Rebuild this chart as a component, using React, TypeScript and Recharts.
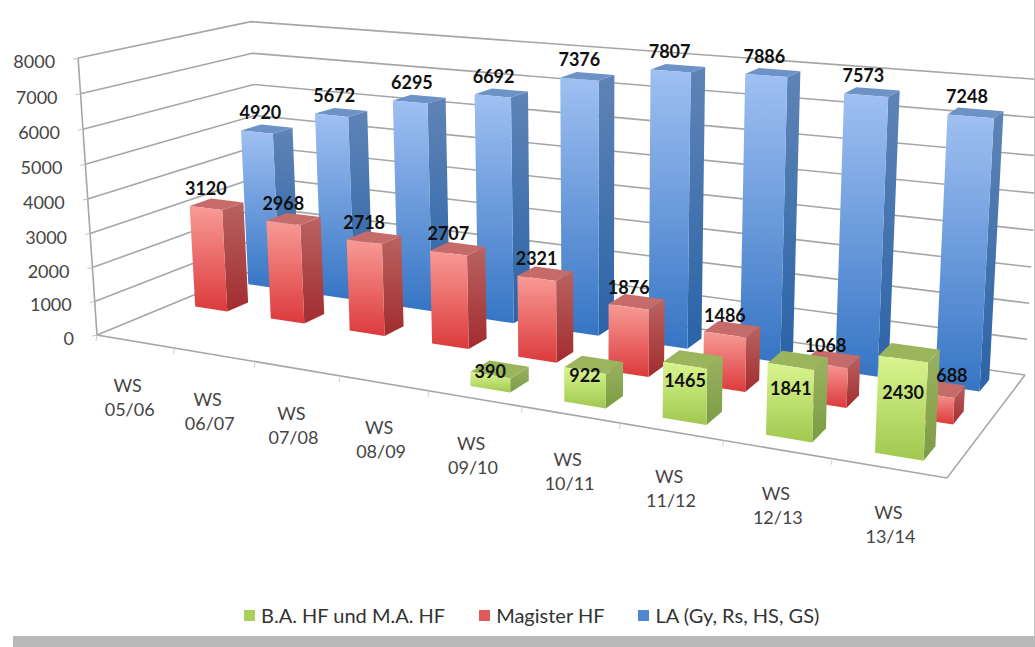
import { BarChart, Bar, XAxis, YAxis, CartesianGrid, LabelList, Legend } from 'recharts'

const categories = ['WS 05/06', 'WS 06/07', 'WS 07/08', 'WS 08/09', 'WS 09/10', 'WS 10/11', 'WS 11/12', 'WS 12/13', 'WS 13/14']
const baHf = [null, null, null, null, 390, 922, 1465, 1841, 2430]
const magisterHf = [3120, 2968, 2718, 2707, 2321, 1876, 1486, 1068, 688]
const la = [4920, 5672, 6295, 6692, 7376, 7807, 7886, 7573, 7248]
const valueTicks = [0, 1000, 2000, 3000, 4000, 5000, 6000, 7000, 8000]
const legendOrder = ['B.A. HF und M.A. HF', 'Magister HF', 'LA (Gy, Rs, HS, GS)']

const data = categories.map((name, i) => ({ name, ba: baHf[i], mag: magisterHf[i], la: la[i] }))

const W = 1035
const H = 647
// plot rectangle the axes scale into, before the box projection
const PLOT_L = 40
const PLOT_W = W - PLOT_L
const PLOT_B = H - 30
const BAR_SIZE = (PLOT_W / categories.length) * 0.43
const FONT = 'Lato, "Open Sans", sans-serif'

type Pt = [number, number]

// floor corners: front-left, front-right, back-right, back-left
const [p0, p1, p2, p3]: Pt[] = [[97, 335], [947, 478], [1025, 375], [262, 267]]
// where the verticals of the box meet, below the page
const VANISH: Pt = [600, 7700]
const TOP_Y_FRONT_LEFT = 58

const dx1 = p1[0] - p2[0]
const dx2 = p3[0] - p2[0]
const sx = p0[0] - p1[0] + p2[0] - p3[0]
const dy1 = p1[1] - p2[1]
const dy2 = p3[1] - p2[1]
const sy = p0[1] - p1[1] + p2[1] - p3[1]
const den = dx1 * dy2 - dx2 * dy1
const g = (sx * dy2 - dx2 * sy) / den
const h = (dx1 * sy - sx * dy1) / den
const a = p1[0] - p0[0] + g * p1[0]
const b = p3[0] - p0[0] + h * p3[0]
const d = p1[1] - p0[1] + g * p1[1]
const e = p3[1] - p0[1] + h * p3[1]
const t = (TOP_Y_FRONT_LEFT - p0[1]) / (VANISH[1] - TOP_Y_FRONT_LEFT)

// u along the categories, v into the depth, w up the value axis (all 0..1)
function project(u: number, v: number, w: number): Pt {
  const q = g * u + h * v + 1 + t * w
  return [(a * u + b * v + p0[0] + VANISH[0] * t * w) / q, (d * u + e * v + p0[1] + VANISH[1] * t * w) / q]
}

const pts = (list: Pt[]) => list.map((p) => `${p[0].toFixed(1)},${p[1].toFixed(1)}`).join(' ')
const toU = (x: number) => (x - PLOT_L) / PLOT_W
const toW = (y: number) => (PLOT_B - y) / PLOT_B

const styles = {
  la: { v0: 0.77, v1: 0.9, front: ['#9fc0f2', '#3675c4'], side: ['#5f84b6', '#2a63a7'], top: '#6c92c6', lift: 20, k: 0, skew: 8 },
  mag: { v0: 0.435, v1: 0.565, front: ['#f89b95', '#dc3a3c'], side: ['#b96361', '#a22c2e'], top: '#c56b69', lift: 20, k: 0, skew: 0 },
  ba: { v0: 0.1, v1: 0.23, front: ['#d9f58e', '#a0c850'], side: ['#9ab262', '#7c9c44'], top: '#9bb55d', lift: 11, k: 0.45, skew: 0 },
}
type SeriesKey = keyof typeof styles

// the 688 label sits clear of the green bar in front of it
const labelShift: Record<number, number> = { 688: 21 }

const makeBar = (key: SeriesKey) => (props: any) => {
  const { x, y, width, height } = props
  if (!height || height <= 0) return <g />
  const s = styles[key]
  const u0 = toU(x)
  const u1 = toU(x + width)
  const w1 = toW(y)
  const fbl = project(u0, s.v0, 0)
  const fbr = project(u1, s.v0, 0)
  const ftl = project(u0, s.v0, w1)
  const ftr = project(u1, s.v0, w1)
  const bbr = project(u1, s.v1, 0)
  const btr = project(u1, s.v1, w1)
  const btl = project(u0, s.v1, w1)
  return (
    <g>
      <polygon points={pts([ftr, btr, bbr, fbr])} fill={`url(#${key}-side)`} />
      <polygon points={pts([ftl, btl, btr, ftr])} fill={s.top} />
      <polygon points={pts([ftl, ftr, fbr, fbl])} fill={`url(#${key}-front)`} />
    </g>
  )
}

const makeLabel = (key: SeriesKey) => (props: any) => {
  const { x, y, width, value } = props
  if (value == null) return <g />
  const s = styles[key]
  const u = toU(x + width / 2)
  const w1 = toW(y)
  const top = project(u, s.v0, w1)
  const base = project(u, s.v0, 0)
  const dy = (base[1] - top[1]) * s.k - s.lift
  const dx = s.skew * (0.5 - u) + (labelShift[value] ?? 0)
  return (
    <text x={top[0] + dx} y={top[1] + dy} textAnchor="middle" dominantBaseline="central" fontFamily={FONT} fontWeight={700} fontSize={18} fill="#111">
      {value}
    </text>
  )
}

// wall gridlines, and on the zero line the floor outline and the value axis
function wallLine(props: any) {
  const w = toW(props.y1)
  const isFloor = w < 0.001
  return (
    <g key={props.y1} fill="none" stroke="#a6a6a6" strokeWidth={1.6}>
      <polyline points={pts([project(0, 0, w), project(0, 1, w), project(1, 1, w)])} />
      {isFloor && <polyline points={pts([project(0, 0, 1), project(0, 0, 0), project(1, 0, 0), project(1, 1, 0)])} />}
    </g>
  )
}

function ValueTick(props: any) {
  const { y, payload } = props
  const p = project(0, 0, toW(y))
  return (
    <g>
      <line x1={p[0] - 5} y1={p[1] + 1} x2={p[0]} y2={p[1]} stroke="#c4c4c4" strokeWidth={1} />
      <text x={p[0] - 23} y={p[1] + 3} textAnchor="end" dominantBaseline="central" fontFamily={FONT} fontSize={18} fill="#444">
        {payload.value}
      </text>
    </g>
  )
}

function CategoryTick(props: any) {
  const { x, payload } = props
  const u = toU(x)
  const p = project(u, 0, 0)
  const edge = project(u - 0.5 / categories.length, 0, 0)
  const shift = -8 * (1 - u)
  const [first, second] = String(payload.value).split(' ')
  return (
    <g>
      <line x1={edge[0]} y1={edge[1]} x2={edge[0] - 1} y2={edge[1] + 6} stroke="#cfcfcf" strokeWidth={1} />
      <text x={p[0] + shift} y={p[1] + 44} textAnchor="middle" dominantBaseline="central" fontFamily={FONT} fontSize={18} fill="#444">{first}</text>
      <text x={p[0] + shift + 2} y={p[1] + 68} textAnchor="middle" dominantBaseline="central" fontFamily={FONT} fontSize={18} fill="#444">{second}</text>
    </g>
  )
}

const legendSwatch = ['#a8cf5c', '#e2595b', '#4f88d2']

function LegendRow() {
  return (
    <div style={{ display: 'flex', gap: 34, alignItems: 'center', fontFamily: FONT, fontSize: 20, color: '#333', whiteSpace: 'nowrap' }}>
      {legendOrder.map((label, i) => (
        <span key={label} style={{ display: 'flex', alignItems: 'center', gap: 6 }}>
          <span style={{ width: 11, height: 11, background: legendSwatch[i] }} />
          {label}
        </span>
      ))}
    </div>
  )
}

function gradient(id: string, stops: string[]) {
  return (
    <linearGradient id={id} key={id} x1="0" y1="0" x2="0" y2="1">
      <stop offset="0" stopColor={stops[0]} />
      <stop offset="1" stopColor={stops[1]} />
    </linearGradient>
  )
}

export default function App() {
  return (
    <div style={{ position: 'absolute', left: 0, top: 0, width: W, height: H, overflow: 'hidden', background: '#fff' }}>
      <BarChart width={W} height={H} data={data} margin={{ top: 0, right: 0, bottom: 0, left: 0 }}>
        <defs>
          {(Object.keys(styles) as SeriesKey[]).flatMap((k) => [gradient(`${k}-front`, styles[k].front), gradient(`${k}-side`, styles[k].side)])}
        </defs>
        <CartesianGrid xAxisId="ba" vertical={false} horizontal={wallLine} />
        <XAxis xAxisId="ba" dataKey="name" height={H - PLOT_B} interval={0} axisLine={false} tickLine={false} tick={CategoryTick} />
        <XAxis xAxisId="mag" dataKey="name" hide />
        <XAxis xAxisId="la" dataKey="name" hide />
        <YAxis width={PLOT_L} domain={[0, 8000]} ticks={valueTicks} interval={0} axisLine={false} tickLine={false} tick={ValueTick} />
        <Bar xAxisId="la" dataKey="la" barSize={BAR_SIZE} isAnimationActive={false} shape={makeBar('la')}>
          <LabelList dataKey="la" content={makeLabel('la')} />
        </Bar>
        <Bar xAxisId="mag" dataKey="mag" barSize={BAR_SIZE} isAnimationActive={false} shape={makeBar('mag')}>
          <LabelList dataKey="mag" content={makeLabel('mag')} />
        </Bar>
        <Bar xAxisId="ba" dataKey="ba" barSize={BAR_SIZE} isAnimationActive={false} shape={makeBar('ba')}>
          <LabelList dataKey="ba" content={makeLabel('ba')} />
        </Bar>
        <Legend layout="horizontal" verticalAlign="middle" align="center" content={LegendRow} wrapperStyle={{ position: 'absolute', left: 244, top: 603, width: 'auto' }} />
      </BarChart>
      <div style={{ position: 'absolute', left: 13, top: 636, right: 0, bottom: 0, background: '#b9b9b9' }} />
      <div style={{ position: 'absolute', right: 0, top: 0, width: 1, height: 636, background: '#c4c4c4' }} />
    </div>
  )
}
